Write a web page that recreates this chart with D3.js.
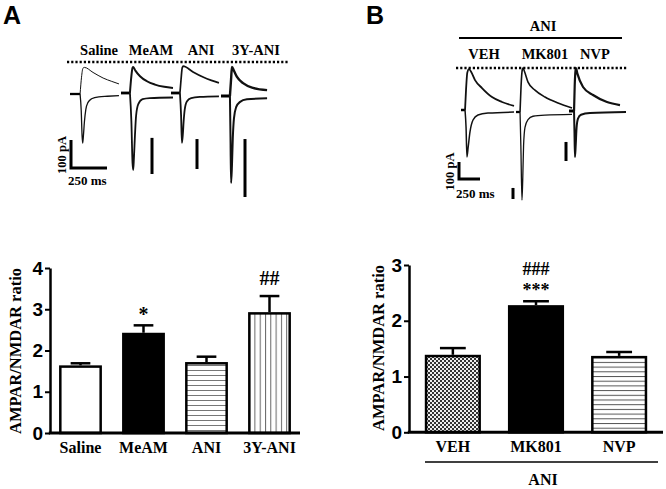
<!DOCTYPE html>
<html><head><meta charset="utf-8">
<script src="https://cdn.jsdelivr.net/npm/d3@7"></script>
<style>body{margin:0;background:#fff}svg{display:block}</style>
</head><body><svg id="c" width="666" height="489"></svg>
<script>
// ---------- bar chart data ----------
const catsA = ["Saline", "MeAM", "ANI", "3Y-ANI"];
const valsA = [1.64, 2.43, 1.72, 2.93];
const errA  = [0.05, 0.18, 0.13, 0.39];
const sigA  = ["", "*", "", "##"];
const ticksA = [0, 1, 2, 3, 4];

const catsB = ["VEH", "MK801", "NVP"];
const valsB = [1.39, 2.28, 1.37];
const errB  = [0.12, 0.07, 0.07];
const sigB1 = ["", "###", ""];
const sigB2 = ["", "***", ""];
const ticksB = [0, 1, 2, 3];

// ---------- trace data: [ms, pA] ----------
const salineStub = [[0,0],[70,0]];
const salineUp   = [[70,0],[80,60],[90,92],[100,95],[160,77],[230,57],[290,45],[340,36]];
const salineDown = [[70,0],[78,-60],[84,-150],[88,-175],[93,-150],[100,-100],[110,-55],[125,-30],[150,-17],[200,-10],[260,-8],[340,-6]];
const meamStub = [[0,0],[62,0]];
const meamUp   = [[62,0],[70,50],[80,90],[85,93],[100,80],[132,60],[180,42],[236,30],[300,22],[361,18]];
const meamDown = [[62,0],[72,-100],[80,-250],[85,-275],[90,-230],[97,-150],[105,-80],[120,-40],[150,-22],[200,-18],[361,-16]];
const aniStub = [[0,0],[62,0]];
const aniUp   = [[62,0],[70,50],[78,90],[85,96],[153,75],[222,57],[280,45],[333,36]];
const aniDown = [[62,0],[70,-80],[76,-178],[82,-150],[88,-100],[95,-60],[110,-30],[140,-18],[200,-14],[333,-12]];
const y3Stub = [[0,0],[62,0]];
const y3Up   = [[62,0],[70,60],[76,104],[90,90],[111,68],[153,46],[222,29],[320,21]];
const y3Down = [[62,0],[66,-150],[70,-311],[76,-250],[82,-150],[90,-80],[105,-40],[130,-22],[180,-12],[320,-8]];

const vehStub = [[0,0],[48,0]];
const vehUp   = [[48,0],[60,120],[75,220],[95,241],[120,225],[167,176],[250,129],[369,76],[488,47],[631,24]];
const vehDown = [[48,0],[60,-100],[71,-276],[85,-220],[107,-129],[143,-59],[202,-29],[321,-18],[631,-12]];
const mkStub = [[0,0],[48,0]];
const mkUp   = [[48,0],[60,150],[75,250],[83,259],[100,240],[143,176],[226,129],[345,88],[500,53],[667,24]];
const mkDown = [[48,0],[58,-200],[71,-518],[80,-400],[90,-200],[107,-90],[143,-45],[202,-25],[345,-18],[667,-14]];
const nvpStub = [[0,0],[60,0]];
const nvpUp   = [[60,0],[68,150],[78,240],[83,253],[100,220],[167,141],[286,94],[452,53],[607,35]];
const nvpDown = [[60,0],[65,-120],[71,-271],[80,-200],[90,-100],[107,-45],[143,-22],[250,-12],[679,-6]];

// per-trace normalisation scale bars (pA)
const barsA_pA = [null, 129, 107, 207];
const barsB_pA = [null, 65, 112];
const scaleBarMs = 250, scaleBarPa = 100;

// ---------- layout ----------
const svg = d3.select("#c");
const SERIF = "'Liberation Serif','Times New Roman',serif";
const SANS = "'Liberation Sans',Arial,sans-serif";

const defs = svg.append("defs");
function linePattern(id, w, h, x1, y1, x2, y2, col) {
  const p = defs.append("pattern").attr("id", id).attr("patternUnits", "userSpaceOnUse")
    .attr("width", w).attr("height", h);
  p.append("rect").attr("width", w).attr("height", h).attr("fill", "#fff");
  p.append("line").attr("x1", x1).attr("y1", y1).attr("x2", x2).attr("y2", y2)
    .attr("stroke", col).attr("stroke-width", 1);
}
linePattern("hA", 4, 5, 0, 0.5, 4, 0.5, "#777");
linePattern("vA", 5.3, 4, 0.5, 0, 0.5, 4, "#666");
linePattern("hB", 4, 4.7, 0, 0.5, 4, 0.5, "#555");
{
  const p = defs.append("pattern").attr("id", "chk").attr("patternUnits", "userSpaceOnUse")
    .attr("width", 4).attr("height", 4);
  p.append("rect").attr("width", 4).attr("height", 4).attr("fill", "#eee");
  p.append("rect").attr("width", 2).attr("height", 2).attr("fill", "#333");
  p.append("rect").attr("x", 2).attr("y", 2).attr("width", 2).attr("height", 2).attr("fill", "#333");
}
const fillsA = ["#fff", "#000", "url(#hA)", "url(#vA)"];
const fillsB = ["url(#chk)", "#000", "url(#hB)"];

// panel letters
svg.append("text").attr("x", 3).attr("y", 24).text("A")
  .attr("font-family", SANS).attr("font-weight", "bold").attr("font-size", 25);
svg.append("text").attr("x", 366).attr("y", 24).text("B")
  .attr("font-family", SANS).attr("font-weight", "bold").attr("font-size", 25);

// ---------- trace drawing ----------
function drawTraces(cfg) {
  const xs = d3.scaleLinear().domain([0, scaleBarMs]).range([0, cfg.msPx]);
  const ys = d3.scaleLinear().domain([0, scaleBarPa]).range([0, -cfg.paPx]);
  const g = svg.append("g");
  cfg.traces.forEach((t, i) => {
    const o = cfg.origins[i];
    const tg = g.append("g").attr("transform", `translate(${o[0]},${o[1]})`);
    const line = d3.line().x(d => xs(d[0])).y(d => ys(d[1])).curve(d3.curveMonotoneX);
    tg.append("path").attr("d", line(t.stub)).attr("fill", "none").attr("stroke", "#000").attr("stroke-width", t.sw + 1);
    tg.append("path").attr("d", line(t.up)).attr("fill", "none").attr("stroke", "#111").attr("stroke-width", t.swUp);
    tg.append("path").attr("d", line(t.down)).attr("fill", "none").attr("stroke", "#111").attr("stroke-width", t.sw);
    // label
    g.append("text").attr("x", cfg.labelX[i]).attr("y", cfg.labelY).text(t.name)
      .attr("text-anchor", "middle").attr("font-family", SERIF).attr("font-weight", "bold")
      .attr("font-size", 14.5);
    // normalisation bar (bottom anchored, drawn upward)
    if (cfg.bars[i] != null) {
      const b = cfg.barPos[i];
      g.append("line").attr("x1", b[0]).attr("x2", b[0]).attr("y1", b[1])
        .attr("y2", b[1] + ys(cfg.bars[i])).attr("stroke", "#000").attr("stroke-width", 3);
    }
  });
  // dotted line
  g.append("line").attr("x1", cfg.dot[0]).attr("x2", cfg.dot[1]).attr("y1", cfg.dot[2]).attr("y2", cfg.dot[2])
    .attr("stroke", "#000").attr("stroke-width", 2.6).attr("stroke-dasharray", "2.2,2");
  // L scale bar
  const L = cfg.L;
  g.append("path").attr("d", `M${L[0]},${L[1] + ys(scaleBarPa)}V${L[1]}H${L[0] + xs(scaleBarMs)}`)
    .attr("fill", "none").attr("stroke", "#000").attr("stroke-width", 3);
  g.append("text").attr("transform", `translate(${L[0] - 5},${L[1] - cfg.paPx / 2 + 1}) rotate(-90)`)
    .attr("text-anchor", "middle").text("100 pA")
    .attr("font-family", SERIF).attr("font-weight", "bold").attr("font-size", 12.5);
  g.append("text").attr("x", L[0] - 3).attr("y", L[1] + cfg.msLabelDy).text("250 ms")
    .attr("font-family", SERIF).attr("font-weight", "bold").attr("font-size", 13);
}

drawTraces({
  msPx: 36, paPx: 28,
  traces: [
    {name: catsA[0], stub: salineStub, up: salineUp, down: salineDown, sw: 1.3, swUp: 1},
    {name: catsA[1], stub: meamStub, up: meamUp, down: meamDown, sw: 1.8, swUp: 2},
    {name: catsA[2], stub: aniStub, up: aniUp, down: aniDown, sw: 1.8, swUp: 1.7},
    {name: catsA[3], stub: y3Stub, up: y3Up, down: y3Down, sw: 2, swUp: 2.4}
  ],
  origins: [[70, 94], [121, 93], [171, 93], [221, 96]],
  labelX: [99, 151, 201, 256], labelY: 55,
  bars: barsA_pA, barPos: [null, [152, 174], [197, 169], [245, 197]],
  dot: [67, 289, 62],
  L: [71, 168], msLabelDy: 17
});

drawTraces({
  msPx: 21, paPx: 17,
  traces: [
    {name: catsB[0], stub: vehStub, up: vehUp, down: vehDown, sw: 1.5, swUp: 1.8},
    {name: catsB[1], stub: mkStub, up: mkUp, down: mkDown, sw: 1.3, swUp: 1.6},
    {name: catsB[2], stub: nvpStub, up: nvpUp, down: nvpDown, sw: 2, swUp: 2.2}
  ],
  origins: [[461, 110], [516, 112], [569, 111]],
  labelX: [484, 545, 595], labelY: 59,
  bars: barsB_pA, barPos: [null, [513, 199], [566, 161]],
  dot: [456, 627, 68],
  L: [459, 179], msLabelDy: 19
});
// ANI header over panel B traces
svg.append("text").attr("x", 543).attr("y", 31).text("ANI").attr("text-anchor", "middle")
  .attr("font-family", SERIF).attr("font-weight", "bold").attr("font-size", 14.5);
svg.append("line").attr("x1", 459).attr("x2", 622).attr("y1", 38).attr("y2", 38)
  .attr("stroke", "#000").attr("stroke-width", 2);

// ---------- bar charts ----------
function drawBars(cfg) {
  const x = d3.scaleBand().domain(cfg.cats).range([cfg.x0, cfg.x1])
    .paddingInner(cfg.pin).paddingOuter(cfg.pout);
  const y = d3.scaleLinear().domain([0, cfg.ymax]).range([cfg.yb, cfg.yt]);
  const g = svg.append("g");
  const bw = x.bandwidth();
  const sw = 2.5;
  // error bars
  cfg.vals.forEach((v, i) => {
    const cx = x(cfg.cats[i]) + bw / 2;
    g.append("line").attr("x1", cx).attr("x2", cx).attr("y1", y(v)).attr("y2", y(v + cfg.errs[i]))
      .attr("stroke", "#000").attr("stroke-width", 2.5);
    g.append("line").attr("x1", cx - bw * 0.23).attr("x2", cx + bw * 0.23)
      .attr("y1", y(v + cfg.errs[i])).attr("y2", y(v + cfg.errs[i]))
      .attr("stroke", "#000").attr("stroke-width", 2.5);
  });
  g.selectAll("rect.bar").data(cfg.vals).join("rect").attr("class", "bar")
    .attr("x", (d, i) => x(cfg.cats[i]) + sw / 2).attr("width", bw - sw)
    .attr("y", d => y(d) + sw / 2).attr("height", d => y(0) - y(d) - sw / 2)
    .attr("fill", (d, i) => cfg.fills[i]).attr("stroke", "#000").attr("stroke-width", sw);
  // y axis
  const ax = g.append("g").attr("transform", `translate(${cfg.x0},0)`)
    .call(d3.axisLeft(y).tickValues(cfg.ticks).tickFormat(d3.format("d")).tickSize(5).tickSizeOuter(0).tickPadding(2));
  ax.select(".domain").attr("stroke-width", 2.5);
  ax.selectAll(".tick line").attr("stroke-width", 2);
  ax.selectAll(".tick text").attr("font-family", SANS).attr("font-weight", "bold")
    .attr("font-size", 19).attr("fill", "#000");
  // x axis line
  g.append("line").attr("x1", cfg.x0 - 1.2).attr("x2", cfg.x1).attr("y1", y(0)).attr("y2", y(0))
    .attr("stroke", "#000").attr("stroke-width", 3);
  // category labels
  cfg.cats.forEach((c, i) => {
    g.append("text").attr("x", x(c) + bw / 2).attr("y", cfg.yb + 20).text(c)
      .attr("text-anchor", "middle").attr("font-family", SERIF).attr("font-weight", "bold")
      .attr("font-size", 16);
  });
  // significance marks
  cfg.sigs.forEach(s => {
    s.labels.forEach((t, i) => {
      if (!t) return;
      g.append("text").attr("x", x(cfg.cats[i]) + bw / 2).attr("y", s.y[i]).text(t)
        .attr("text-anchor", "middle").attr("font-family", SERIF).attr("font-weight", "bold")
        .attr("font-size", s.size);
    });
  });
  // y label
  g.append("text").attr("transform", `translate(${cfg.ylabX},${cfg.ylabY}) rotate(-90)`)
    .attr("text-anchor", "middle").text("AMPAR/NMDAR ratio")
    .attr("font-family", SERIF).attr("font-weight", "bold").attr("font-size", 16.5);
  return {x, y};
}

drawBars({
  cats: catsA, vals: valsA, errs: errA, fills: fillsA, ticks: ticksA, ymax: 4,
  x0: 50, x1: 300, pin: 0.32, pout: 0.144, yb: 433, yt: 268,
  sigs: [{labels: sigA, y: [0, 321, 0, 285], size: 20}],
  ylabX: 21, ylabY: 351
});

drawBars({
  cats: catsB, vals: valsB, errs: errB, fills: fillsB, ticks: ticksB, ymax: 3,
  x0: 409, x1: 663, pin: 0.325, pout: 0.19, yb: 432.3, yt: 265,
  sigs: [{labels: sigB1, y: [0, 275, 0], size: 18}, {labels: sigB2, y: [0, 296, 0], size: 18}],
  ylabX: 384, ylabY: 348
});
svg.append("line").attr("x1", 425).attr("x2", 658).attr("y1", 462).attr("y2", 462)
  .attr("stroke", "#000").attr("stroke-width", 1.5);
svg.append("text").attr("x", 543).attr("y", 485).text("ANI").attr("text-anchor", "middle")
  .attr("font-family", SERIF).attr("font-weight", "bold").attr("font-size", 16);
</script></body></html>
